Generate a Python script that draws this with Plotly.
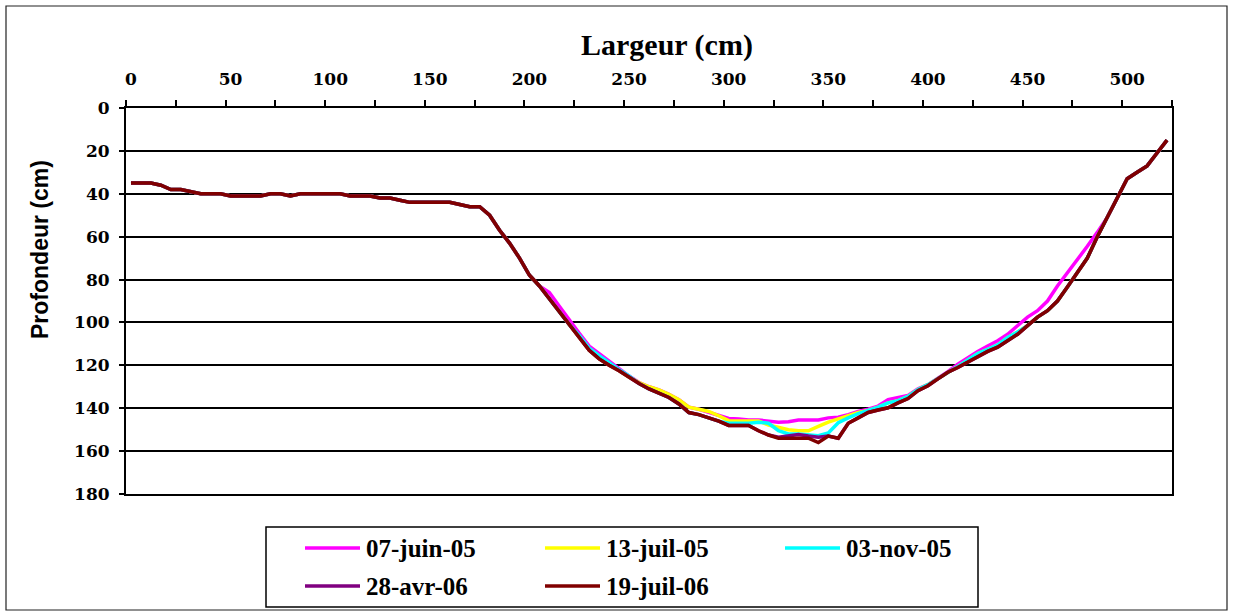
import plotly.graph_objects as go

# ---------------- data ----------------
largeur = list(range(0, 525, 5))  # cm, 105 points

series_names = ["07-juin-05", "13-juil-05", "03-nov-05", "28-avr-06", "19-juil-06"]
series_colors = ["#FF00FF", "#FFFF00", "#00FFFF", "#800080", "#800000"]

juin05 = [35, 35, 35, 36, 38, 38, 39, 40, 40, 40,
          41, 41, 41, 41, 40, 40, 41, 40, 40, 40,
          40, 40, 41, 41, 41, 42, 42, 43, 44, 44,
          44, 44, 44, 45, 46, 46, 50, 57, 63, 70,
          78, 83, 86, 92.5, 99, 105, 111, 114.5, 118.5, 122,
          125, 128, 130, 131.5, 133.5, 136, 139.5, 140.5, 142, 143.5,
          144.8, 145, 145.5, 145.5, 146, 146.5, 146.3, 145.5, 145.5, 145.5,
          144.5, 144.2, 143, 141.5, 140.5, 139, 136, 135, 134, 131,
          129, 126, 123, 119.5, 116.5, 113.5, 111, 108.5, 105.5, 101.5,
          97.5, 94.5, 90, 83, 77, 71, 64.5, 58, 51, 42,
          33, 30, 27, 21, 15]

juil05 = [35, 35, 35, 36, 38, 38, 39, 40, 40, 40,
          41, 41, 41, 41, 40, 40, 41, 40, 40, 40,
          40, 40, 41, 41, 41, 42, 42, 43, 44, 44,
          44, 44, 44, 45, 46, 46, 50, 57, 63, 70,
          78, 83, 89, 95, 101, 107, 113, 117, 120, 122.5,
          125.5, 128, 130, 131.5, 133.5, 136, 139.5, 140.5, 141.5, 143.5,
          145.8, 146, 146, 146, 147.8, 148.8, 150, 150.5, 150.5, 148.5,
          146.5, 145, 143.5, 142, 141, 139.5, 137.5, 136.5, 134.5, 131.3,
          129, 126, 123.3, 120.5, 117.5, 114.5, 112.5, 110.5, 107, 104.5,
          101.5, 97.5, 94.5, 90, 83.5, 76.5, 70, 60, 51, 42,
          33, 30, 27, 21, 15]

nov05 = [35, 35, 35, 36, 38, 38, 39, 40, 40, 40,
         41, 41, 41, 41, 40, 40, 41, 40, 40, 40,
         40, 40, 41, 41, 41, 42, 42, 43, 44, 44,
         44, 44, 44, 45, 46, 46, 50, 57, 63, 70,
         78, 83, 89, 95, 101, 106, 112, 115.5, 119, 122,
         125, 128.5, 131, 133, 135, 138, 142, 143, 144.5, 146,
         147, 147, 147, 146.5, 147, 150.5, 152, 152, 152.5, 152.8,
         151.5, 146.8, 144.5, 142.5, 141, 139.5, 137.5, 136.5, 134.5, 131.3,
         129, 126, 123.3, 120.5, 117.5, 114.5, 112.5, 110.5, 107, 104.5,
         101.5, 97.5, 94.5, 90, 83.5, 76.5, 70, 60, 51, 42,
         33, 30, 27, 21, 15]

avr06 = [35, 35, 35, 36, 38, 38, 39, 40, 40, 40,
         41, 41, 41, 41, 40, 40, 41, 40, 40, 40,
         40, 40, 41, 41, 41, 42, 42, 43, 44, 44,
         44, 44, 44, 45, 46, 46, 50, 57, 63, 70,
         78, 83, 89, 95, 101, 107, 113, 117, 120, 122.5,
         125.5, 128.5, 131, 133, 135, 138, 142, 143, 144.5, 146,
         148, 148, 148, 150.5, 152.5, 153.5, 153, 152.3, 153, 153.5,
         153, 154, 147, 144.5, 142, 140.8, 139.8, 137.5, 135.5, 131.8,
         129.5, 126.3, 123.2, 121, 118.5, 116, 113.5, 111.5, 108.5, 105.5,
         101.5, 97.5, 94.5, 90, 83.5, 76.5, 70, 60, 51, 42,
         33, 30, 27, 21, 15]

juil06 = [35, 35, 35, 36, 38, 38, 39, 40, 40, 40,
          41, 41, 41, 41, 40, 40, 41, 40, 40, 40,
          40, 40, 41, 41, 41, 42, 42, 43, 44, 44,
          44, 44, 44, 45, 46, 46, 50, 57, 63, 70,
          78, 83, 89, 95, 101, 107, 113, 117, 120, 122.5,
          125.5, 128.5, 131, 133, 135, 138, 142, 143, 144.5, 146,
          148, 148, 148, 150.5, 152.5, 154, 154, 154, 154, 156,
          153, 154, 147, 144.5, 142, 140.8, 139.8, 137.5, 135.5, 131.8,
          129.5, 126.3, 123.2, 121, 118.5, 116, 113.5, 111.5, 108.5, 105.5,
          101.5, 97.5, 94.5, 90, 83.5, 76.5, 70, 60, 51, 42,
          33, 30, 27, 21, 15]

profondeur = [juin05, juil05, nov05, avr06, juil06]

x_tick_vals = list(range(0, 550, 50))
y_tick_vals = list(range(0, 200, 20))

# ---------------- layout geometry (pixels) ----------------
W, H = 1234, 612
PL, PR, PT, PB = 126, 1172, 108, 494


def fx(px):
    return (px - PL) / (PR - PL)


def fy(py):
    return (PB - py) / (PB - PT)


fig = go.Figure()
for name, color, vals in zip(series_names, series_colors, profondeur):
    fig.add_trace(go.Scatter(x=largeur, y=vals, name=name, mode="lines",
                             line=dict(color=color, width=3.5),
                             showlegend=False))

tick_font = dict(family="DejaVu Serif", size=17, color="black", weight="bold")

fig.update_layout(
    width=W, height=H,
    margin=dict(l=PL, r=W - PR, t=PT, b=H - PB, pad=0),
    paper_bgcolor="white", plot_bgcolor="white",
    showlegend=False,
    xaxis=dict(
        side="top", range=[-2.5, 522.5],
        tickmode="array", tickvals=x_tick_vals, ticktext=[str(v) for v in x_tick_vals],
        ticks="", showgrid=False, zeroline=False,
        showline=True, linecolor="black", linewidth=2, mirror=True,
        tickfont=tick_font, ticklabelstandoff=14,
        minor=dict(ticks="outside", tick0=-2.5, dtick=25, ticklen=6,
                   tickwidth=1.5, tickcolor="black", showgrid=False),
    ),
    yaxis=dict(
        range=[180, 0], tickmode="array", tickvals=y_tick_vals,
        ticktext=[str(v) for v in y_tick_vals],
        ticks="outside", ticklen=5, tickwidth=1.5, tickcolor="black",
        showgrid=True, gridcolor="black", gridwidth=1.5, zeroline=False,
        showline=True, linecolor="black", linewidth=2, mirror=True,
        tickfont=tick_font, ticklabelstandoff=6,
    ),
)

annotations = [
    dict(text="Largeur (cm)", x=fx(667), y=fy(45), xref="paper", yref="paper",
         showarrow=False, xanchor="center", yanchor="middle",
         font=dict(family="Liberation Serif", size=30, color="black", weight="bold")),
    dict(text="Profondeur (cm)", x=fx(40), y=fy(250), xref="paper", yref="paper",
         showarrow=False, xanchor="center", yanchor="middle", textangle=-90,
         font=dict(family="Liberation Sans", size=23, color="black", weight="bold")),
]

shapes = [
    # chart border
    dict(type="rect", xref="paper", yref="paper", x0=fx(6), x1=fx(1227), y0=fy(6), y1=fy(610),
         line=dict(color="#222222", width=1.2), fillcolor="rgba(0,0,0,0)", layer="below"),
    # legend box
    dict(type="rect", xref="paper", yref="paper", x0=fx(266), x1=fx(978), y0=fy(527), y1=fy(607),
         line=dict(color="black", width=1.5), fillcolor="rgba(0,0,0,0)"),
]

legend_cols = [305, 545, 785]
legend_rows = [548, 586]
for i, (name, color) in enumerate(zip(series_names, series_colors)):
    cx = legend_cols[i % 3]
    cy = legend_rows[i // 3]
    shapes.append(dict(type="line", xref="paper", yref="paper",
                       x0=fx(cx), x1=fx(cx + 55), y0=fy(cy), y1=fy(cy),
                       line=dict(color=color, width=3.5)))
    annotations.append(dict(text=name, x=fx(cx + 59), y=fy(cy), xref="paper", yref="paper",
                            showarrow=False, xanchor="left", yanchor="middle",
                            font=dict(family="Liberation Serif", size=25, color="black",
                                      weight="bold")))

fig.update_layout(annotations=annotations, shapes=shapes)

fig.write_html(
    "out.html",
    config={"displayModeBar": False},
    post_script="document.body.style.margin='0';document.body.style.overflow='hidden';",
)
